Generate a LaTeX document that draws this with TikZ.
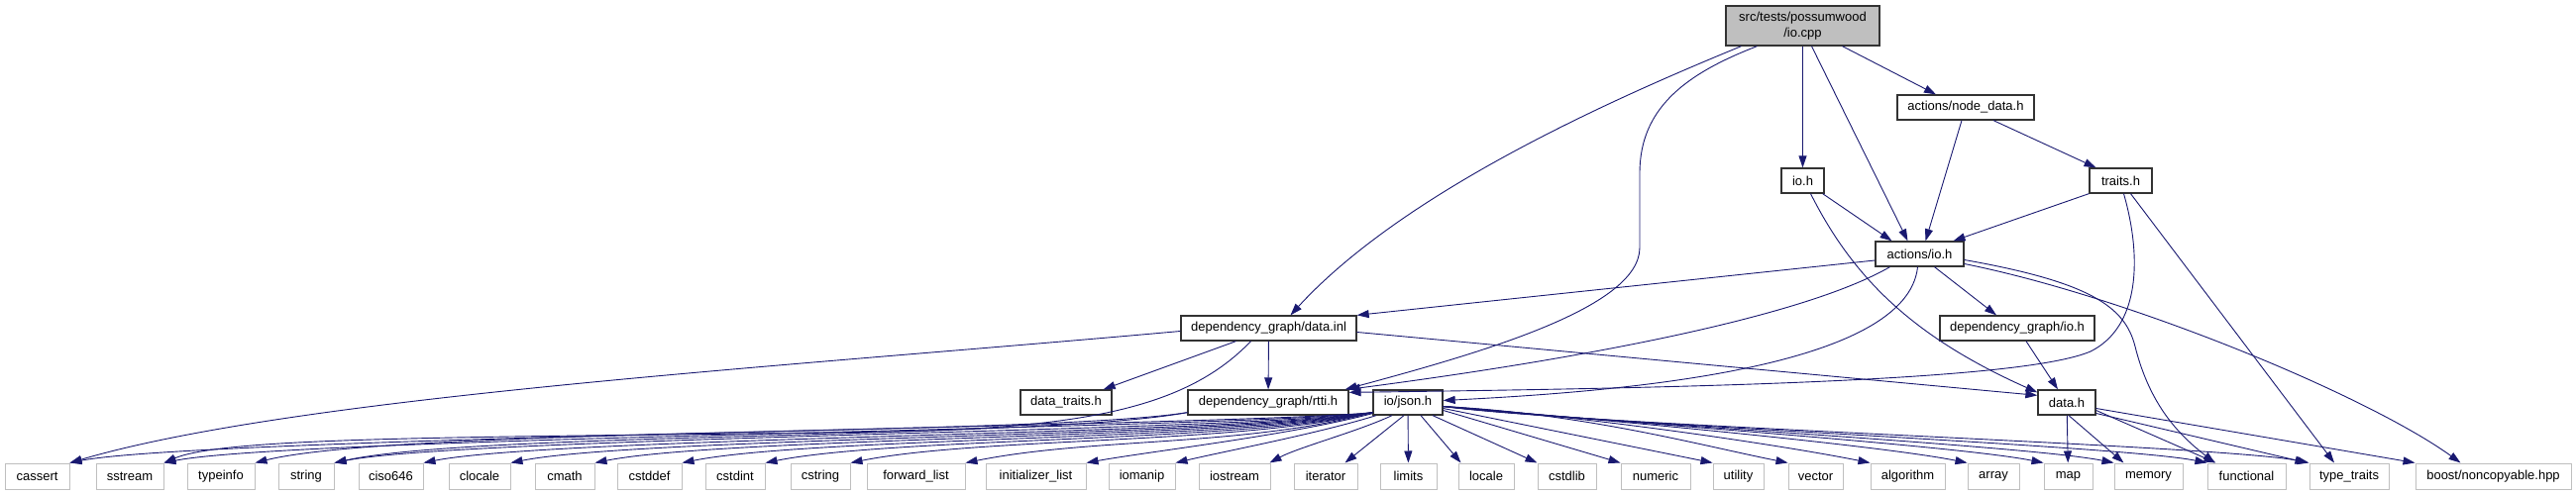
\documentclass[tikz,border=0pt]{standalone}
\usepackage{fontspec}
\setmainfont{Liberation Sans}
\usetikzlibrary{arrows.meta,calc}
\definecolor{edgeblue}{HTML}{191970}
\definecolor{boxgray}{HTML}{BFBFBF}
\tikzset{
  hdrbox/.style={draw=black!80, line width=1.3pt, fill=white, inner sep=0pt, minimum height=25pt, font=\fontsize{13}{16}\selectfont},
  srcbox/.style={hdrbox, fill=boxgray, align=center, minimum height=40pt},
  sysbox/.style={hdrbox, draw=boxgray, line width=1pt, minimum height=26pt},
  incl/.style={draw=edgeblue, line width=0.9pt, -{Triangle[length=12pt,width=8pt]}},
}

\begin{document}
\begin{tikzpicture}[x=1pt, y=-1pt]
  \useasboundingbox (0,0) rectangle (2600,500);

  % Source file and project headers
  \node[srcbox, minimum width=155] (iocpp) at (1819.5,26) {src/tests/possumwood\\/io.cpp};
  \node[hdrbox, minimum width=138] (nodedata) at (1984,108.5) {actions/node\_data.h};
  \node[hdrbox, minimum width=43] (ioh) at (1819.5,182.5) {io.h};
  \node[hdrbox, minimum width=63] (traits) at (2140.5,182.5) {traits.h};
  \node[hdrbox, minimum width=89] (actionsio) at (1937.5,256.5) {actions/io.h};
  \node[hdrbox, minimum width=177] (datainl) at (1280.5,331.5) {dependency\_graph/data.inl};
  \node[hdrbox, minimum width=156] (dgio) at (2036,331.5) {dependency\_graph/io.h};
  \node[hdrbox, minimum width=92] (datatraits) at (1076,406.5) {data\_traits.h};
  \node[hdrbox, minimum width=162] (rtti) at (1280,406.5) {dependency\_graph/rtti.h};
  \node[hdrbox, minimum width=70] (json) at (1421,406.5) {io/json.h};
  \node[hdrbox, minimum width=58] (datah) at (2086,406.5) {data.h};

  % System headers (bottom row)
  \foreach \n/\t/\x/\w in {
    cassert/cassert/37.5/65, sstream/sstream/131/68, typeinfo/typeinfo/223/68,
    string/string/309/56, ciso/ciso646/394.5/65, clocale/clocale/484/62,
    cmath/cmath/570/60, cstddef/cstddef/655.5/65, cstdint/cstdint/742/60,
    cstring/cstring/828/60, fwdlist/forward\_list/924.5/99,
    initlist/initializer\_list/1045.5/101, iomanip/iomanip/1152.5/67,
    iostream/iostream/1246/72, iterator/iterator/1338/64, limits/limits/1421.5/57,
    locale/locale/1500/56, cstdlib/cstdlib/1581.5/59, numeric/numeric/1671/70,
    utility/utility/1754.5/51, vector/vector/1832.5/55, algorithm/algorithm/1925.5/75,
    array/array/2012/52, map/map/2087.5/49, memory/memory/2168.5/69,
    functional/functional/2267.5/79, typetraits/type\_traits/2371/80
  }{
    \node[sysbox, minimum width=\w] (\n) at (\x,481) {\t};
  }
  \node[sysbox, minimum width=157] (noncopyable) at (2516.5,481) {boost/noncopyable.hpp};

  % io.cpp includes
  \draw[incl] ([xshift=-62pt]iocpp.south) .. controls (1640,95) and (1420,190) .. ([xshift=22pt]datainl.north);
  \draw[incl] ([xshift=-46pt]iocpp.south) .. controls (1700,75) and (1655,110) .. (1655,175)
    -- (1655,250) .. controls (1655,310) and (1500,355) .. ([xshift=-4pt]rtti.north east);
  \draw[incl] (iocpp) -- (ioh);
  \draw[incl] ([xshift=9pt]iocpp.south) -- ([xshift=-12pt]actionsio.north);
  \draw[incl] ([xshift=40pt]iocpp.south) -- ([xshift=-30pt]nodedata.north);

  % second level
  \draw[incl] ([xshift=-4pt]nodedata.south) -- ([xshift=6pt]actionsio.north);
  \draw[incl] ([xshift=28pt]nodedata.south) -- ([xshift=-25pt]traits.north);
  \draw[incl] ([xshift=-2pt]ioh.south east) -- ([xshift=-28pt]actionsio.north);
  \draw[incl] ([xshift=8pt]ioh.south) .. controls (1870,280) and (1930,340) .. ([yshift=-3pt]datah.north west);
  \draw[incl] (traits.south west) -- ([xshift=34pt]actionsio.north);
  \draw[incl] ([xshift=3pt]traits.south) .. controls (2162,260) and (2160,330) .. (2110,355)
    .. controls (2040,385) and (1700,392) .. ([yshift=-3pt]rtti.north east);
  \draw[incl] ([xshift=10pt]traits.south) -- ([xshift=-15pt]typetraits.north);

  % actions/io.h includes
  \draw[incl] ([yshift=-6.5pt]actionsio.west) -- (datainl.north east);
  \draw[incl] ([xshift=-30pt]actionsio.south) .. controls (1820,320) and (1600,362) .. ([xshift=-1pt]rtti.north east);
  \draw[incl] ([xshift=-2pt]actionsio.south) .. controls (1925,370) and (1650,395) .. ([yshift=2pt]json.east);
  \draw[incl] ([xshift=15pt]actionsio.south) -- ([xshift=-21pt]dgio.north);
  \draw[incl] ([yshift=-6pt]actionsio.east) .. controls (2110,285) and (2145,310) .. (2155,350)
    .. controls (2170,410) and (2200,440) .. ([xshift=8pt]functional.north west);
  \draw[incl] ([yshift=-10pt]actionsio.east) .. controls (2150,300) and (2390,400) .. ([xshift=46pt]noncopyable.north west);
  \draw[incl] ([xshift=9pt]dgio.south) -- ([xshift=-9pt]datah.north);

  % dependency_graph/data.inl includes
  \draw[incl] ([xshift=-33pt]datainl.south) -- ([xshift=-9pt]datatraits.north east);
  \draw[incl] (datainl) -- (rtti);
  \draw[incl] ([yshift=-4pt]datainl.east) -- ([yshift=-6pt]datah.north west);
  \draw[incl] ([yshift=-3pt]datainl.west) .. controls (800,370) and (300,400) .. (cassert.north east);
  \draw[incl] ([xshift=-18pt]datainl.south) .. controls (1200,410) and (1100,432) .. (900,436)
    .. controls (500,442) and (230,440) .. (sstream.north east);

  % rtti.h includes
  \draw[incl] ([yshift=3pt]rtti.south west) .. controls (1050,440) and (400,432) .. (typeinfo.north east);
  \draw[incl] ([yshift=3pt]rtti.south west) .. controls (1050,444) and (480,436) .. (string.north east);

  % data.h includes
  \draw[incl] (datah) -- (map);
  \draw[incl] ([xshift=2pt]datah.south) -- ([xshift=-25pt]memory.north);
  \draw[incl] ([yshift=-8pt]datah.east) -- ([xshift=-31pt]functional.north);
  \draw[incl] ([yshift=-11pt]datah.east) -- ([xshift=-2pt]typetraits.north west);
  \draw[incl] ([yshift=-6pt]datah.east) -- (noncopyable.north west);

  % io/json.h includes, left side
  \foreach \t/\h in {cassert/430, sstream/433, string/436, ciso/439, clocale/441,
    cmath/443, cstddef/445, cstdint/447, cstring/449, fwdlist/452}{
    \draw[incl] ([yshift=3pt]json.south west) .. controls (1250,\h) and ($(\t.north east)+(130,-26)$) .. (\t.north east);
  }
  \draw[incl] ([yshift=2pt]json.south west) .. controls (1300,440) and (1160,456) .. (initlist.north east);
  \draw[incl] ([xshift=-32pt]json.south) .. controls (1330,438) and (1240,455) .. (iomanip.north east);
  \draw[incl] ([xshift=-16pt]json.south) .. controls (1370,436) and (1310,452) .. ([xshift=-1pt]iostream.north east);
  \draw[incl] ([xshift=-4pt]json.south) -- ([xshift=-13pt]iterator.north east);
  \draw[incl] (json) -- (limits);
  \draw[incl] ([xshift=13pt]json.south) -- ([xshift=3pt]locale.north west);
  \draw[incl] ([xshift=25pt]json.south) -- (cstdlib.north west);
  \draw[incl] ([yshift=-8pt]json.east) -- (numeric.north west);
  \draw[incl] ([yshift=-6pt]json.east) -- (utility.north west);

  % io/json.h includes, right side
  \foreach \t/\h in {vector/418, algorithm/420, array/422, map/424, memory/426,
    functional/428, typetraits/430}{
    \draw[incl] ([yshift=-4pt]json.east) .. controls (1600,\h) and ($(\t.north west)+(-90,-18)$) .. (\t.north west);
  }

\end{tikzpicture}
\end{document}
